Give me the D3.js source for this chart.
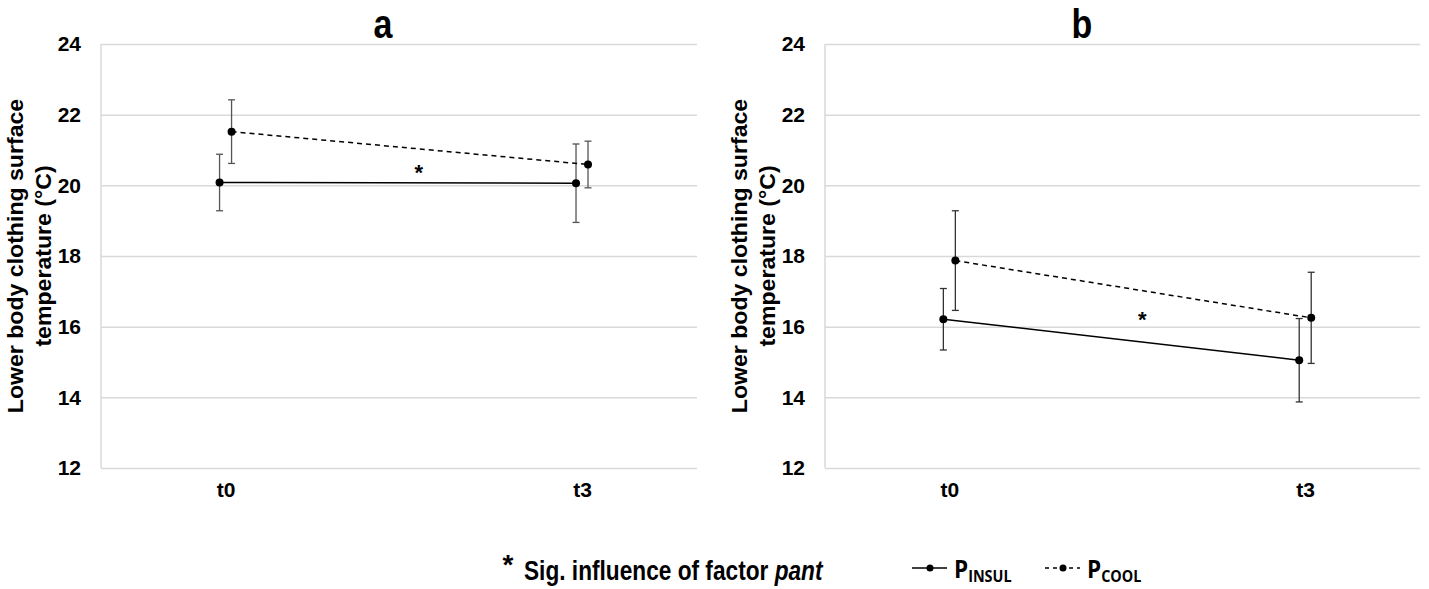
<!DOCTYPE html>
<html>
<head>
<meta charset="utf-8">
<script src="https://cdn.jsdelivr.net/npm/d3@7"></script>
<style>
  html, body { margin: 0; padding: 0; background: #fff; }
  svg { display: block; }
  text { font-family: "Liberation Sans", Arial, sans-serif; font-weight: bold; fill: #000; }
</style>
</head>
<body>
<svg id="chart" width="1429" height="589"></svg>
<script>
// ---- data ----
const categories = ["t0", "t3"];
const seriesNames = ["P_INSUL", "P_COOL"];
const yTicks = [12, 14, 16, 18, 20, 22, 24];
const panelTitles = ["a", "b"];

const aInsulMean = [20.08, 20.06];
const aInsulErr  = [0.80, 1.11];
const aCoolMean  = [21.52, 20.59];
const aCoolErr   = [0.90, 0.66];

const bInsulMean = [16.21, 15.05];
const bInsulErr  = [0.87, 1.18];
const bCoolMean  = [17.87, 16.25];
const bCoolErr   = [1.41, 1.29];

const sigMarkA = 20.45;
const sigMarkB = 16.29;

// ---- layout ----
const svg = d3.select("#chart");
const plotTop = 44, plotBottom = 468;
const panels = [
  { title: panelTitles[0], left: 101, right: 697, titleX: 383,
    series: [
      { name: seriesNames[0], mean: aInsulMean, err: aInsulErr, dash: null, off: -6, col: "#555" },
      { name: seriesNames[1], mean: aCoolMean, err: aCoolErr, dash: "5,4", off: 6, col: "#555" }
    ], sig: sigMarkA, axisTitleX: [16, 44] },
  { title: panelTitles[1], left: 825, right: 1420, titleX: 1082,
    series: [
      { name: seriesNames[0], mean: bInsulMean, err: bInsulErr, dash: null, off: -6, col: "#333" },
      { name: seriesNames[1], mean: bCoolMean, err: bCoolErr, dash: "5,4", off: 6, col: "#333" }
    ], sig: sigMarkB, axisTitleX: [740, 768] }
];

const y = d3.scaleLinear().domain([12, 24]).range([plotBottom, plotTop]);

panels.forEach(p => {
  const g = svg.append("g");
  const x = d3.scalePoint().domain(categories).range([p.left, p.right]).padding(0.336).align(0.52);

  // gridlines + tick labels
  const yAxis = d3.axisLeft(y).tickValues(yTicks).tickSize(-(p.right - p.left)).tickPadding(20).tickFormat(d3.format("d"));
  const ga = g.append("g").attr("transform", `translate(${p.left},0)`).call(yAxis);
  ga.select(".domain").remove();
  ga.selectAll(".tick line").attr("stroke", "#d9d9d9").attr("stroke-width", 1.5);
  ga.selectAll(".tick text").attr("font-size", 21).attr("fill", "#000")
    .style("font-family", "'Liberation Sans', Arial, sans-serif").style("font-weight", "bold");
  // left axis line
  g.append("line").attr("x1", p.left).attr("x2", p.left).attr("y1", plotTop).attr("y2", plotBottom)
    .attr("stroke", "#d9d9d9").attr("stroke-width", 1.5);

  // x axis labels
  const xAxis = d3.axisBottom(x).tickSize(0).tickPadding(14);
  const gx = g.append("g").attr("transform", `translate(0,${plotBottom})`).call(xAxis);
  gx.select(".domain").remove();
  gx.selectAll(".tick text").attr("font-size", 21).attr("fill", "#000")
    .style("font-family", "'Liberation Sans', Arial, sans-serif").style("font-weight", "bold");

  // title (condensed look)
  g.append("text").attr("transform", `translate(${p.titleX},38) scale(0.85,1)`).attr("text-anchor", "middle")
    .attr("font-size", 40).text(p.title);

  // y axis title (two lines)
  const cy = (plotTop + plotBottom) / 2;
  ["Lower body clothing surface", "temperature (°C)"].forEach((t, i) => {
    g.append("text").attr("transform", `translate(${p.axisTitleX[i]},${cy}) rotate(-90) scale(1.05,1)`)
      .attr("text-anchor", "middle").attr("dominant-baseline", "central")
      .attr("font-size", 22).text(t);
  });

  // series
  p.series.forEach(s => {
    const pts = categories.map((c, i) => ({ x: x(c) + s.off, m: s.mean[i], e: s.err[i] }));
    pts.forEach(d => {
      const eg = g.append("g").attr("stroke", s.col).attr("stroke-width", 1.3);
      eg.append("line").attr("x1", d.x).attr("x2", d.x).attr("y1", y(d.m - d.e)).attr("y2", y(d.m + d.e));
      eg.append("line").attr("x1", d.x - 3.5).attr("x2", d.x + 3.5).attr("y1", y(d.m - d.e)).attr("y2", y(d.m - d.e));
      eg.append("line").attr("x1", d.x - 3.5).attr("x2", d.x + 3.5).attr("y1", y(d.m + d.e)).attr("y2", y(d.m + d.e));
    });
    const line = d3.line().x(d => d.x).y(d => y(d.m));
    g.append("path").datum(pts).attr("d", line).attr("fill", "none")
      .attr("stroke", "#000").attr("stroke-width", 1.5)
      .attr("stroke-dasharray", s.dash);
    g.selectAll(null).data(pts).enter().append("circle")
      .attr("cx", d => d.x).attr("cy", d => y(d.m)).attr("r", 4).attr("fill", "#000");
  });

  // significance asterisk
  const midX = (x(categories[0]) + x(categories[1])) / 2 + 15;
  g.append("text").attr("x", midX).attr("y", y(p.sig) + 11).attr("text-anchor", "middle")
    .attr("font-size", 22).text("*");
});

// ---- bottom legend ----
const leg = svg.append("g");
leg.append("text").attr("x", 508).attr("y", 574).attr("text-anchor", "middle").attr("font-size", 28).text("*");
const sig = leg.append("text").attr("transform", "translate(524,580) scale(0.84,1)").attr("font-size", 27);
sig.append("tspan").text("Sig. influence of factor ");
sig.append("tspan").attr("font-style", "italic").text("pant");

const legendItems = [
  { x0: 912, dash: null, main: "P", sub: "INSUL" },
  { x0: 1045, dash: "4,4", main: "P", sub: "COOL" }
];
legendItems.forEach(it => {
  leg.append("line").attr("x1", it.x0).attr("x2", it.x0 + 35).attr("y1", 568).attr("y2", 568)
    .attr("stroke", "#000").attr("stroke-width", 1.3).attr("stroke-dasharray", it.dash);
  leg.append("circle").attr("cx", it.x0 + 18).attr("cy", 568).attr("r", 3.5).attr("fill", "#000");
  const t = leg.append("text").attr("transform", `translate(${it.x0 + 42},578) scale(0.9,1)`).attr("font-size", 25)
    .style("font-family", "'Open Sans', 'Liberation Sans', sans-serif");
  t.append("tspan").text(it.main);
  t.append("tspan").attr("font-size", 16).attr("dy", 4).text(it.sub);
});
</script>
</body>
</html>
